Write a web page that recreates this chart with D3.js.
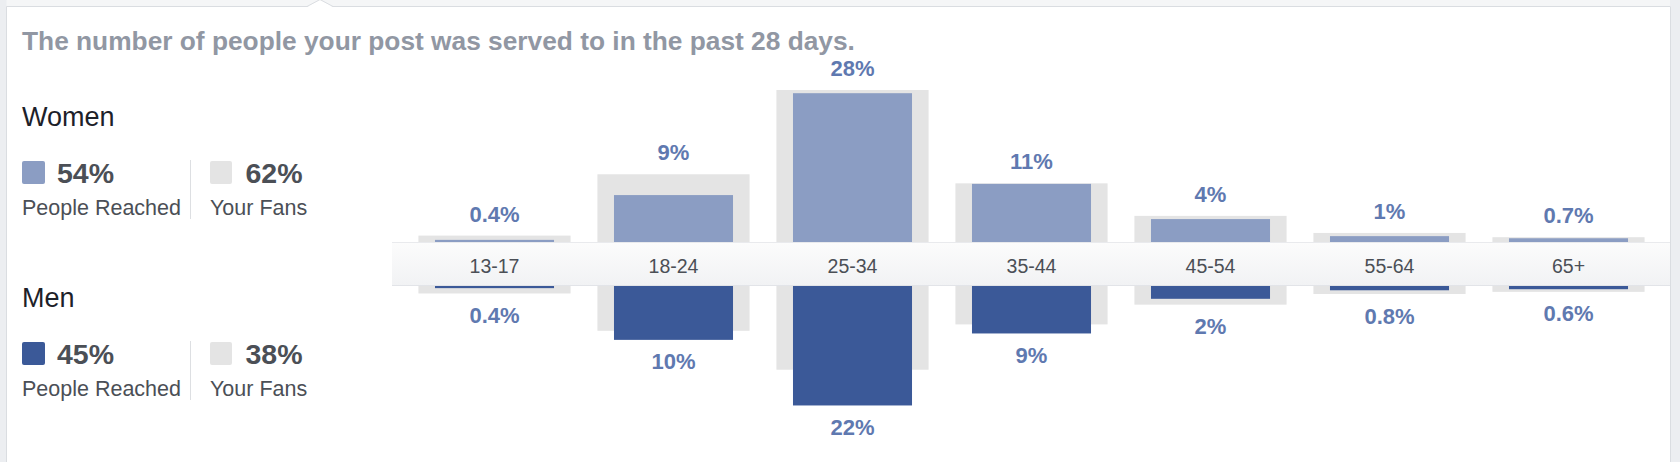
<!DOCTYPE html>
<html><head><meta charset="utf-8">
<script src="https://cdn.jsdelivr.net/npm/d3@7"></script>
<style>
body{margin:0;background:#fff;}
svg{display:block;font-family:"Liberation Sans",Arial,Helvetica,sans-serif;}
</style>
</head><body>
<svg id="c" width="1680" height="462"></svg>
<script>
// ---- data ----
const categories = ["13-17","18-24","25-34","35-44","45-54","55-64","65+"];
const womenReached = [0.4, 8.8, 27.9, 10.9, 4.3, 1.1, 0.7];
const womenFans    = [1.2, 12.7, 28.5, 11.0, 4.9, 1.7, 0.9];
const menReached   = [0.4, 10.1, 22.4, 8.9, 2.4, 0.8, 0.6];
const menFans      = [1.4, 8.4, 15.7, 7.2, 3.5, 1.5, 1.1];
const groups = ["Women","Men"];
const reachedTotals = [54, 45];
const fansTotals = [62, 38];
const legendLabels = ["People Reached","Your Fans"];
const titleText = "The number of people your post was served to in the past 28 days.";

// ---- styles ----
const C = {
  women:"#8b9dc3", men:"#3b5998", fans:"#e4e4e4",
  label:"#5f79b0", dark:"#4b4f56", title:"#9197a3", head:"#1d2129", border:"#dadde1"
};

const svg = d3.select("#c");
const W = 1680, H = 462;

// frame
svg.append("rect").attr("x",0).attr("y",0).attr("width",W).attr("height",H).attr("fill","#fff");
svg.append("rect").attr("x",0).attr("y",0).attr("width",W).attr("height",6.5).attr("fill","#f5f6f7");
svg.append("rect").attr("x",0).attr("y",0).attr("width",6.5).attr("height",H).attr("fill","#eceef1");
svg.append("rect").attr("x",1670).attr("y",0).attr("width",10).attr("height",H).attr("fill","#eceef1");
svg.append("line").attr("x1",6.5).attr("x2",1670).attr("y1",6.5).attr("y2",6.5).attr("stroke",C.border);
svg.append("line").attr("x1",6.5).attr("x2",6.5).attr("y1",6.5).attr("y2",H).attr("stroke",C.border);
svg.append("line").attr("x1",1670.5).attr("x2",1670.5).attr("y1",6.5).attr("y2",H).attr("stroke",C.border);
svg.append("path").attr("d","M307,7L320,0L333,7Z").attr("fill","#fff");
svg.append("path").attr("d","M307,6.5L320,-0.5L333,6.5").attr("fill","none").attr("stroke",C.border);

// title
svg.append("text").attr("x",22).attr("y",49.5).attr("font-size",26.3).attr("font-weight","bold")
  .attr("fill",C.title).text(titleText);

// legends
groups.forEach((g,i)=>{
  const oy = i*181;
  const G = svg.append("g").attr("transform",`translate(0,${oy})`);
  G.append("text").attr("x",22).attr("y",125.7).attr("font-size",27).attr("fill",C.head).text(g);
  G.append("rect").attr("x",22).attr("y",161).attr("width",23).attr("height",23).attr("rx",2)
    .attr("fill", i===0?C.women:C.men);
  G.append("text").attr("x",57).attr("y",182.5).attr("font-size",28.5).attr("font-weight","bold")
    .attr("fill",C.dark).text(reachedTotals[i]+"%");
  G.append("text").attr("x",22).attr("y",214.5).attr("font-size",21.5).attr("fill",C.dark).text(legendLabels[0]);
  G.append("line").attr("x1",190.5).attr("x2",190.5).attr("y1",160).attr("y2",219).attr("stroke","#dddfe2");
  G.append("rect").attr("x",210).attr("y",161).attr("width",22).attr("height",23).attr("rx",2).attr("fill",C.fans);
  G.append("text").attr("x",245.5).attr("y",182.5).attr("font-size",28.5).attr("font-weight","bold")
    .attr("fill",C.dark).text(fansTotals[i]+"%");
  G.append("text").attr("x",210).attr("y",214.5).attr("font-size",21.5).attr("fill",C.dark).text(legendLabels[1]);
});

// scales
const x = d3.scaleBand().domain(categories).range([405,1658]);
const h = d3.scaleLinear().domain([0,30]).range([0,160]);
const yTop = 242, yBot = 286;
const bw = x.bandwidth(), bgW = bw*0.85, barW = bw*0.665;
const fmt = v => v < 1 ? v.toFixed(1)+"%" : Math.round(v)+"%";

const rows = categories.map((c,i)=>({c, wr:womenReached[i], wf:womenFans[i], mr:menReached[i], mf:menFans[i]}));

// women (up)
const up = svg.append("g");
up.selectAll(".wf").data(rows).join("rect")
  .attr("x",d=>x(d.c)+(bw-bgW)/2).attr("width",bgW)
  .attr("y",d=>yTop-h(d.wf)).attr("height",d=>h(d.wf)).attr("fill",C.fans);
up.selectAll(".wr").data(rows).join("rect")
  .attr("x",d=>x(d.c)+(bw-barW)/2).attr("width",barW)
  .attr("y",d=>yTop-h(d.wr)).attr("height",d=>h(d.wr)).attr("fill",C.women);
up.selectAll(".wl").data(rows).join("text")
  .attr("x",d=>x(d.c)+bw/2).attr("y",d=>yTop-h(Math.max(d.wr,d.wf))-14)
  .attr("text-anchor","middle").attr("font-size",22).attr("font-weight","bold").attr("fill",C.label)
  .text(d=>fmt(d.wr));

// men (down)
const dn = svg.append("g");
dn.selectAll(".mf").data(rows).join("rect")
  .attr("x",d=>x(d.c)+(bw-bgW)/2).attr("width",bgW)
  .attr("y",yBot).attr("height",d=>h(d.mf)).attr("fill",C.fans);
dn.selectAll(".mr").data(rows).join("rect")
  .attr("x",d=>x(d.c)+(bw-barW)/2).attr("width",barW)
  .attr("y",yBot).attr("height",d=>h(d.mr)).attr("fill",C.men);
dn.selectAll(".ml").data(rows).join("text")
  .attr("x",d=>x(d.c)+bw/2).attr("y",d=>yBot+h(Math.max(d.mr,d.mf))+29.5)
  .attr("text-anchor","middle").attr("font-size",22).attr("font-weight","bold").attr("fill",C.label)
  .text(d=>fmt(d.mr));

// axis band
const defs = svg.append("defs");
const gr = defs.append("linearGradient").attr("id","bandG").attr("x1",0).attr("x2",0).attr("y1",0).attr("y2",1);
gr.append("stop").attr("offset","0%").attr("stop-color","#fcfcfc");
gr.append("stop").attr("offset","100%").attr("stop-color","#f1f2f4");
svg.append("rect").attr("x",392).attr("y",yTop).attr("width",1670-392).attr("height",yBot-yTop).attr("fill","url(#bandG)");
svg.append("line").attr("x1",392).attr("x2",1670).attr("y1",yTop+0.5).attr("y2",yTop+0.5).attr("stroke","#e9eaed");
svg.append("line").attr("x1",392).attr("x2",1670).attr("y1",yBot-0.5).attr("y2",yBot-0.5).attr("stroke","#e2e4e8");

const ax = svg.append("g").attr("transform",`translate(0,${yTop})`).call(d3.axisBottom(x).tickSize(0));
ax.select(".domain").remove();
ax.selectAll("text").attr("y",30.7).attr("dy",null).attr("font-size",19.5)
  .attr("font-family","'Liberation Sans',Arial,sans-serif").attr("fill",C.dark);
</script>
</body></html>
